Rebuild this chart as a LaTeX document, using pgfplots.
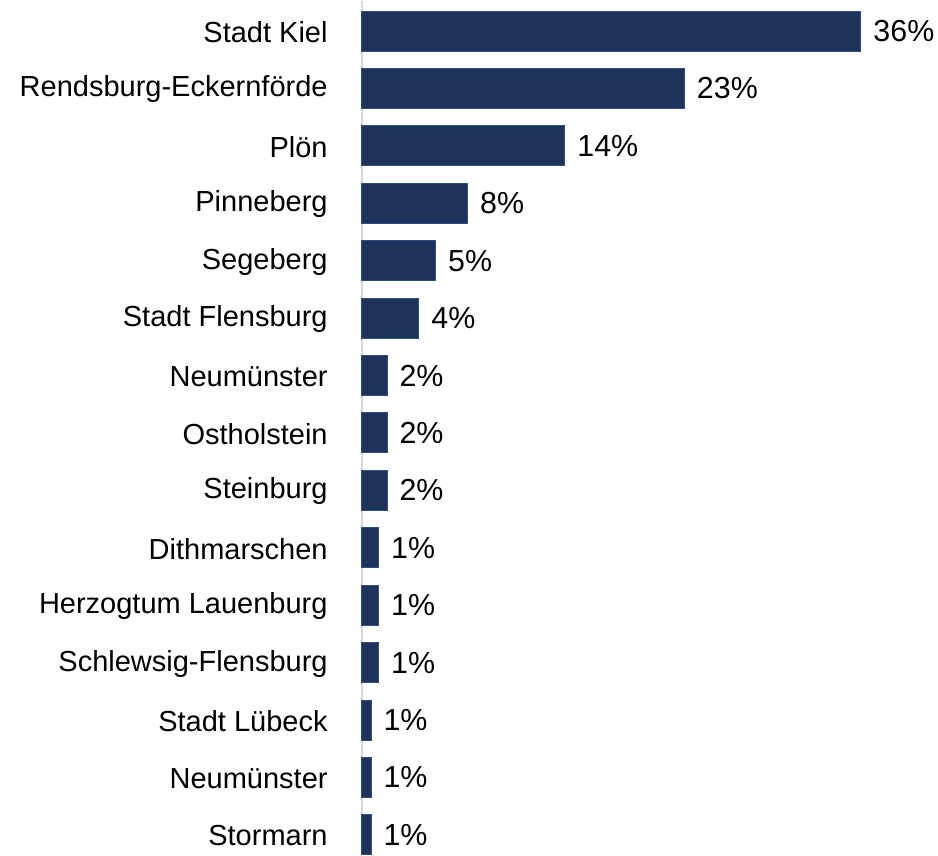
\documentclass[border=0pt]{standalone}
\usepackage{fontspec}
\setmainfont{Liberation Sans}
\usepackage{pgfplots}
\pgfplotsset{compat=1.18}
\definecolor{barnavy}{HTML}{1F3259}
\definecolor{baredge}{HTML}{2F5083}
\definecolor{axisgray}{HTML}{D9D9D9}
\begin{document}
\begin{tikzpicture}
\begin{axis}[
    scale only axis,
    width=288pt, height=426pt,
    xbar, bar width=20pt,
    xmin=0, xmax=41.44,
    ymin=-0.52, ymax=14.32,
    y dir=reverse,
    axis x line=none,
    axis y line*=left,
    y axis line style={draw=axisgray, line width=1.2pt, -},
    major tick length=0pt,
    ytick={0,...,14},
    yticklabels={Stadt Kiel, Rendsburg-Eckernförde, Plön, Pinneberg, Segeberg,
      Stadt Flensburg, Neumünster, Ostholstein, Steinburg, Dithmarschen,
      Herzogtum Lauenburg, Schlewsig-Flensburg, Stadt Lübeck, Neumünster, Stormarn},
    y tick label style={font=\fontsize{14.5}{17}\selectfont, anchor=east, inner sep=0pt, xshift=-17pt, yshift=-0.5pt},
    point meta=explicit symbolic,
    nodes near coords,
    nodes near coords style={font=\fontsize{15.2}{18}\selectfont, anchor=west, inner sep=0pt, xshift=6pt, text=black},
    clip=false,
]
\addplot[fill=barnavy, draw=baredge, line width=0.5pt] coordinates {
    (35.9,0) [36\%]
    (23.2,1) [23\%]
    (14.6,2) [14\%]
    (7.6,3) [8\%]
    (5.3,4) [5\%]
    (4.1,5) [4\%]
    (1.8,6) [2\%]
    (1.8,7) [2\%]
    (1.8,8) [2\%]
    (1.2,9) [1\%]
    (1.2,10) [1\%]
    (1.2,11) [1\%]
    (0.65,12) [1\%]
    (0.65,13) [1\%]
    (0.65,14) [1\%]
};
\end{axis}
\path ([xshift=-181pt]current axis.south west) rectangle (current axis.north east);
\end{tikzpicture}
\end{document}
